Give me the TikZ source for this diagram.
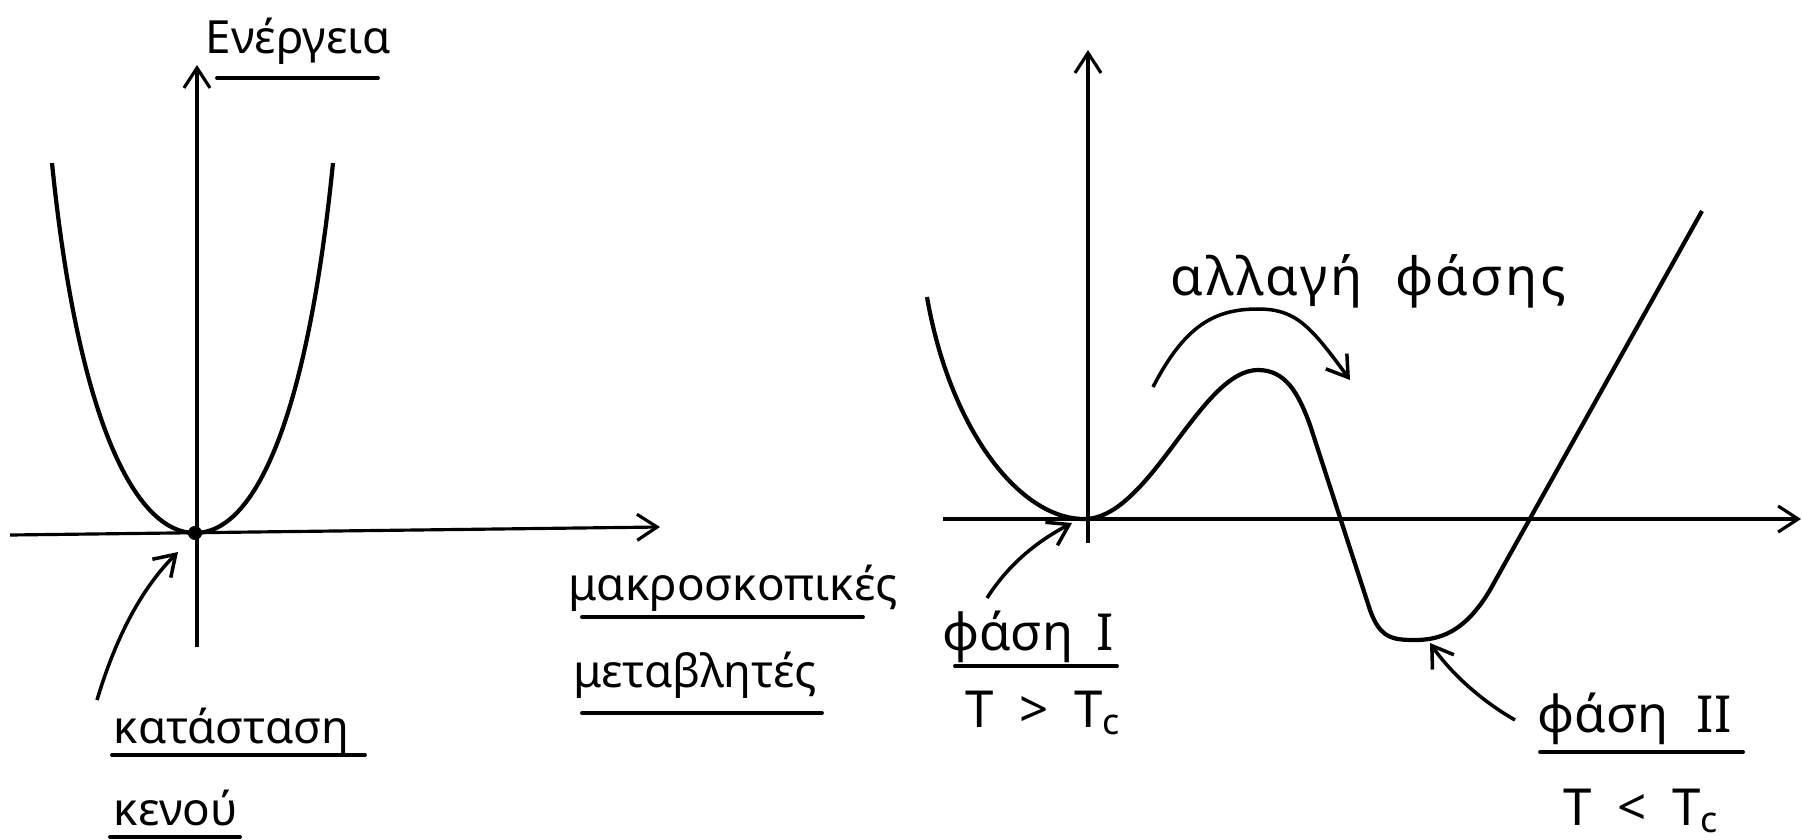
\documentclass[tikz,border=0pt]{standalone}
\usepackage{fontspec}
\setmainfont{Noto Sans}
\usetikzlibrary{arrows.meta, calc}

\begin{document}
\begin{tikzpicture}[
    x=0.01cm, y=-0.01cm, % one unit = one pixel of the sketch, y downwards
    >={Straight Barb[length=2mm, width=2.6mm]}, % open hand-drawn tip
    axis/.style={line width=0.9pt, ->},
    curve/.style={line width=1.2pt, line join=round},
    pointer/.style={line width=1pt, ->},
    lbl/.style={font=\fontsize{13}{15}\selectfont, inner sep=0pt, anchor=base west},
    biglbl/.style={lbl, font=\fontsize{14.5}{16}\selectfont},
    uline/.style={line width=1.1pt, line cap=round}
]
    \useasboundingbox (0,0) rectangle (1803,839);

    % ---------- left: single minimum ----------
    \coordinate (O1) at (195,533);
    \draw[axis] (10,535) -- (660,527);   % macroscopic variables
    \draw[axis] (197,647) -- (197,65);   % energy

    % the parabola
    \draw[curve] (52,163) .. controls (78,420) and (135,533) .. (O1)
        .. controls (255,533) and (307,420) .. (333,163);
    \fill (O1) circle (2pt);

    % labels
    \node[lbl] (energy) at (205,53) {Ενέργεια};
    \draw[uline] (217,78) -- (378,78);

    \node[lbl] (macro) at (568,600) {μακροσκοπικές};
    \draw[uline] (582,617) -- (863,617);
    \node[lbl] (vars) at (573,687) {μεταβλητές};
    \draw[uline] (582,713) -- (822,713);

    \node[lbl] (state) at (113,743) {κατάσταση};
    \draw[uline] (112,755) -- (365,755);
    \node[lbl] (vacuum) at (113,825) {κενού};
    \draw[uline] (110,837) -- (240,837);

    % arrow to the vacuum state
    \coordinate (stateTail) at (97,700);
    \coordinate (O1tip) at (178,552);
    \draw[pointer] (stateTail) .. controls (115,640) and (140,590) .. (O1tip);

    % ---------- right: two minima ----------
    \coordinate (O2) at (1084,519);
    \coordinate (top) at (1258,370);
    \coordinate (low) at (1415,640);
    \draw[axis] (943,519) -- (1801,519);
    \draw[axis] (1088,543) -- (1088,50);

    % the double well
    \draw[curve] (927,297) .. controls (950,430) and (1020,519) .. (O2)
        .. controls (1150,519) and (1200,370) .. (top)
        .. controls (1285,370) and (1298,392) .. (1310,425)
        -- (1370,610)
        .. controls (1380,638) and (1392,640) .. (low)
        .. controls (1440,640) and (1465,632) .. (1490,590)
        -- (1702,211);

    % phase change arrow
    \node[biglbl, font=\fontsize{15}{17}\selectfont\addfontfeatures{LetterSpace=5}]
        (change) at (1170,295) {αλλαγή\hspace{0.3em} φάσης};
    \coordinate (hopTail) at (1153,387);
    \coordinate (hopTip) at (1350,380);
    \draw[pointer] (hopTail) .. controls (1185,325) and (1215,309) .. (1258,309)
        .. controls (1295,309) and (1310,325) .. (hopTip);

    % phase I
    \node[biglbl] (phaseA) at (942,650) {φάση\hspace{0.2em} I};
    \draw[uline] (955,666) -- (1117,666);
    \node[biglbl] (tempA) at (965,727) {T\hspace{0.5em}>\hspace{0.5em}T\textsubscript{c}};
    \coordinate (phaseATail) at (987,598);
    \coordinate (O2tip) at (1072,523);
    \draw[pointer] (phaseATail) .. controls (1005,570) and (1030,545) .. (O2tip);

    % phase II
    \node[biglbl] (phaseB) at (1537,732) {φάση\hspace{0.3em} II};
    \draw[uline] (1540,752) -- (1743,752);
    \node[biglbl] (tempB) at (1563,825) {T\hspace{0.5em}<\hspace{0.5em}T\textsubscript{c}};
    \coordinate (phaseBTail) at (1515,720);
    \coordinate (minTip) at (1430,643);
    \draw[pointer] (phaseBTail) .. controls (1480,700) and (1450,672) .. (minTip);

\end{tikzpicture}
\end{document}
